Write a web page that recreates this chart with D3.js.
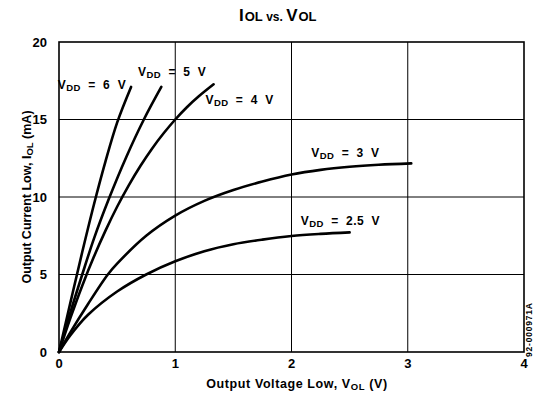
<!DOCTYPE html>
<html>
<head>
<meta charset="utf-8">
<script src="https://cdn.jsdelivr.net/npm/d3@7"></script>
<style>
  body { margin: 0; background: #fff; }
  svg { display: block; }
  text { font-family: "Liberation Sans", Arial, Helvetica, sans-serif; font-weight: bold; fill: #000; }
</style>
</head>
<body>
<svg id="chart" width="534" height="394"></svg>
<script>
// Output current low (mA) against output voltage low (V), one curve per supply voltage
const xTicks = [0, 1, 2, 3, 4];
const yTicks = [0, 5, 10, 15, 20];

const vdd6  = [[0, 0], [0.1, 3.25], [0.2, 6.45], [0.3, 9.5], [0.4, 12.3], [0.5, 14.8], [0.62, 17.1]];
const vdd5  = [[0, 0], [0.1, 2.6], [0.2, 5.0], [0.3, 7.3], [0.43, 9.9], [0.58, 12.6], [0.73, 15.0], [0.88, 17.1]];
const vdd4  = [[0, 0], [0.1, 2.23], [0.2, 4.28], [0.3, 6.14], [0.4, 7.83], [0.5, 9.37], [0.6, 10.75], [0.7, 12.0], [0.8, 13.12], [0.9, 14.11], [1.0, 15.0], [1.1, 15.79], [1.2, 16.48], [1.33, 17.27]];
const vdd3  = [[0, 0], [0.1, 1.3], [0.25, 3.1], [0.42, 5.0], [0.5, 5.7], [0.75, 7.5], [1.0, 8.8], [1.25, 9.75], [1.5, 10.45], [1.75, 11.0], [2.0, 11.45], [2.25, 11.75], [2.5, 11.95], [2.75, 12.08], [3.03, 12.17]];
const vdd25 = [[0, 0], [0.1, 1.1], [0.25, 2.4], [0.5, 3.9], [0.75, 5.0], [1.0, 5.85], [1.25, 6.5], [1.5, 6.95], [1.75, 7.25], [2.0, 7.48], [2.25, 7.62], [2.5, 7.72]];

const seriesNames = ["6", "5", "4", "3", "2.5"];
const seriesData = [vdd6, vdd5, vdd4, vdd3, vdd25];
// label anchor: left edge x in volts, baseline y in mA
const labelX = [-0.01, 0.68, 1.26, 2.17, 2.08];
const labelY = [16.98, 17.8, 15.98, 12.55, 8.2];

const svg = d3.select("#chart");
const x = d3.scaleLinear().domain([0, 4]).range([59, 524]);
const y = d3.scaleLinear().domain([0, 20]).range([352, 42]);

// grid
svg.append("g").selectAll("line").data(xTicks.slice(1, -1)).join("line")
  .attr("x1", d => x(d)).attr("x2", d => x(d))
  .attr("y1", y(20)).attr("y2", y(0))
  .attr("stroke", "#000").attr("stroke-width", 1);
svg.append("g").selectAll("line").data(yTicks.slice(1, -1)).join("line")
  .attr("x1", x(0)).attr("x2", x(4))
  .attr("y1", d => y(d)).attr("y2", d => y(d))
  .attr("stroke", "#000").attr("stroke-width", 1);

// frame
svg.append("rect")
  .attr("x", x(0)).attr("y", y(20))
  .attr("width", x(4) - x(0)).attr("height", y(0) - y(20))
  .attr("fill", "none").attr("stroke", "#000").attr("stroke-width", 1.6);

// tick labels
svg.append("g").selectAll("text").data(xTicks).join("text")
  .attr("x", d => x(d)).attr("y", 368)
  .attr("text-anchor", "middle").attr("font-size", 13)
  .text(d => d);
svg.append("g").selectAll("text").data(yTicks).join("text")
  .attr("x", 47).attr("y", d => y(d) + 4.5)
  .attr("text-anchor", "end").attr("font-size", 13)
  .text(d => d);

// curves
const line = d3.line().x(d => x(d[0])).y(d => y(d[1])).curve(d3.curveCatmullRom.alpha(0.5));
svg.append("g").selectAll("path").data(seriesData).join("path")
  .attr("d", line)
  .attr("fill", "none").attr("stroke", "#000").attr("stroke-width", 2.6)
  .attr("stroke-linecap", "round");

// curve labels
seriesNames.forEach((name, i) => {
  const t = svg.append("text")
    .attr("x", x(labelX[i])).attr("y", y(labelY[i]))
    .attr("font-size", 12).attr("xml:space", "preserve")
    .style("white-space", "pre").style("letter-spacing", "0.4px");
  t.append("tspan").text("V");
  t.append("tspan").attr("font-size", 9.5).attr("dy", 2).text("DD");
  t.append("tspan").attr("dy", -2).text("  =  " + name + "  V");
});

// title
const title = svg.append("text").attr("x", 239).attr("y", 21).attr("font-size", 17);
title.append("tspan").text("I");
title.append("tspan").attr("font-size", 13).attr("dx", 1).text("OL");
title.append("tspan").attr("font-size", 12).text(" vs. ");
title.append("tspan").text("V");
title.append("tspan").attr("font-size", 13).attr("dx", 1).text("OL");

// axis titles
const xt = svg.append("text").attr("x", 297).attr("y", 388)
  .attr("text-anchor", "middle").attr("font-size", 12.5)
  .style("letter-spacing", "0.6px");
xt.append("tspan").text("Output Voltage Low, V");
xt.append("tspan").attr("font-size", 9.5).attr("dy", 2).text("OL");
xt.append("tspan").attr("dy", -2).text(" (V)");

const yt = svg.append("text")
  .attr("transform", "translate(31,197) rotate(-90)")
  .attr("text-anchor", "middle").attr("font-size", 12.5);
yt.append("tspan").text("Output Current Low, I");
yt.append("tspan").attr("font-size", 9.5).attr("dy", 2).text("OL");
yt.append("tspan").attr("dy", -2).text(" (mA)");

// figure code along the right edge
svg.append("text")
  .attr("transform", "translate(531.5,357) rotate(-90)")
  .attr("font-size", 8.5).attr("font-weight", "normal")
  .style("letter-spacing", "0.8px")
  .text("92-000971A");
</script>
</body>
</html>
